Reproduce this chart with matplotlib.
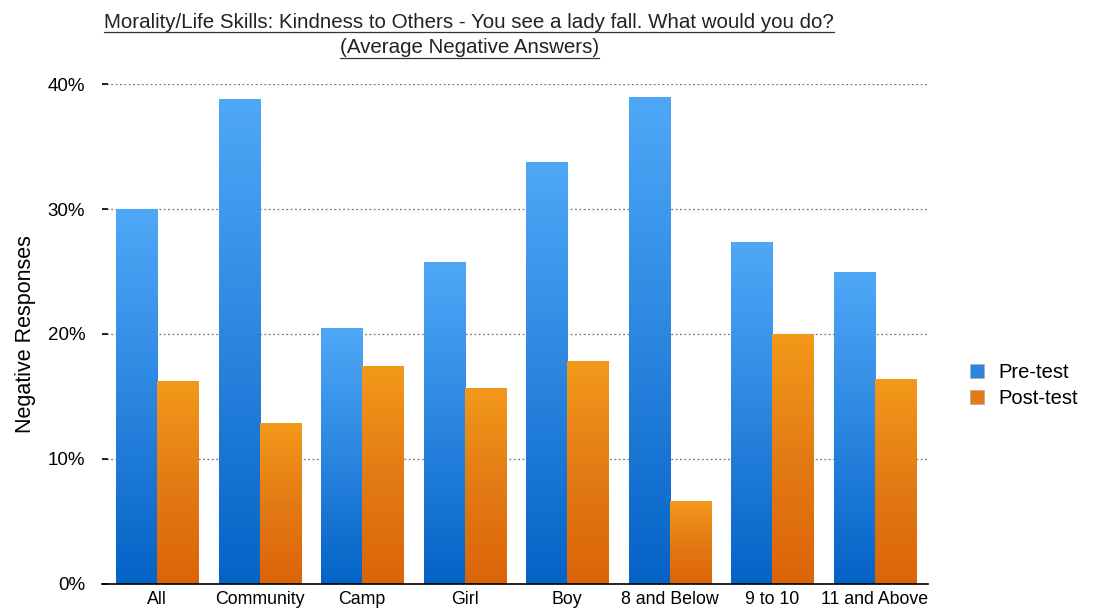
import matplotlib.pyplot as plt
import numpy as np
from matplotlib.colors import LinearSegmentedColormap
from matplotlib.lines import Line2D
from matplotlib.patches import Patch
from matplotlib.ticker import FuncFormatter

plt.rcParams["font.family"] = ["Liberation Sans", "DejaVu Sans"]

categories = ["All", "Community", "Camp", "Girl", "Boy", "8 and Below", "9 to 10", "11 and Above"]
pre_test = [30.0, 38.8, 20.5, 25.8, 33.8, 39.0, 27.4, 25.0]
post_test = [16.2, 12.9, 17.4, 15.7, 17.8, 6.6, 20.0, 16.4]

title_lines = ["Morality/Life Skills: Kindness to Others - You see a lady fall. What would you do?",
               "(Average Negative Answers)"]

blue_map = LinearSegmentedColormap.from_list("blue_grad", ["#0463c6", "#2b86e0", "#4fa8f7"])
orange_map = LinearSegmentedColormap.from_list("orange_grad", ["#dc6408", "#e37b14", "#f3991a"])

fig = plt.figure(figsize=(10.99, 6.12), dpi=100)
ax = fig.add_axes([0.0928, 0.0458, 0.7516, 0.8169])

x = np.arange(len(categories))
width = 0.4
grad = np.linspace(0, 1, 256).reshape(-1, 1)


def gradient_bars(positions, values, cmap, label):
    bars = ax.bar(positions, values, width, color=cmap(0.5), edgecolor="#b0b0b0",
                  linewidth=0.6, label=label, zorder=3)
    for b in bars:
        x0, y0 = b.get_x(), b.get_y()
        im = ax.imshow(grad, cmap=cmap, aspect="auto", origin="lower",
                       extent=(x0, x0 + b.get_width(), y0, y0 + b.get_height()), zorder=3.5)
        im.set_clip_path(b)
    return bars


gradient_bars(x - width / 2, pre_test, blue_map, "Pre-test")
gradient_bars(x + width / 2, post_test, orange_map, "Post-test")

ax.set_xlim(-0.536, len(categories) - 0.483)
ax.set_ylim(0, 40)
ax.set_yticks([0, 10, 20, 30, 40])
ax.yaxis.set_major_formatter(FuncFormatter(lambda v, _: f"{v:.0f}%"))
ax.set_xticks(x)
ax.set_xticklabels(categories)
ax.tick_params(axis="x", length=0, pad=5, labelsize=12.8)
ax.tick_params(axis="y", length=4, direction="in", width=1.2, pad=12, labelsize=13.5)

ax.grid(axis="y", linestyle=(0, (1.5, 2)), color="#777777", linewidth=0.9, zorder=1)
for side in ("top", "right", "left"):
    ax.spines[side].set_visible(False)
ax.spines["bottom"].set_linewidth(1.2)
ax.spines["bottom"].set_zorder(4)

ax.set_ylabel("Negative Responses", fontsize=15.5)
ax.yaxis.set_label_coords(-0.08, 0.5)

# underlined two-line title
renderer = fig.canvas.get_renderer()
for text, ypos in zip(title_lines, [0.954, 0.913]):
    t = fig.text(0.427, ypos, text, ha="center", va="baseline", fontsize=14.8, color="#222222")
    bb = t.get_window_extent(renderer=renderer).transformed(fig.transFigure.inverted())
    fig.add_artist(Line2D([bb.x0, bb.x1], [ypos - 0.007, ypos - 0.007],
                          transform=fig.transFigure, color="#333333", linewidth=0.9))

handles = [Patch(facecolor=blue_map(0.5), edgecolor="#b0b0b0", linewidth=0.6),
           Patch(facecolor=orange_map(0.5), edgecolor="#b0b0b0", linewidth=0.6)]
fig.legend(handles, ["Pre-test", "Post-test"], loc="center left",
           bbox_to_anchor=(0.866, 0.37), frameon=False, fontsize=14.5,
           handlelength=0.7, handleheight=0.7, handletextpad=0.7, labelspacing=0.35)

fig.savefig("out.png", dpi=100)
